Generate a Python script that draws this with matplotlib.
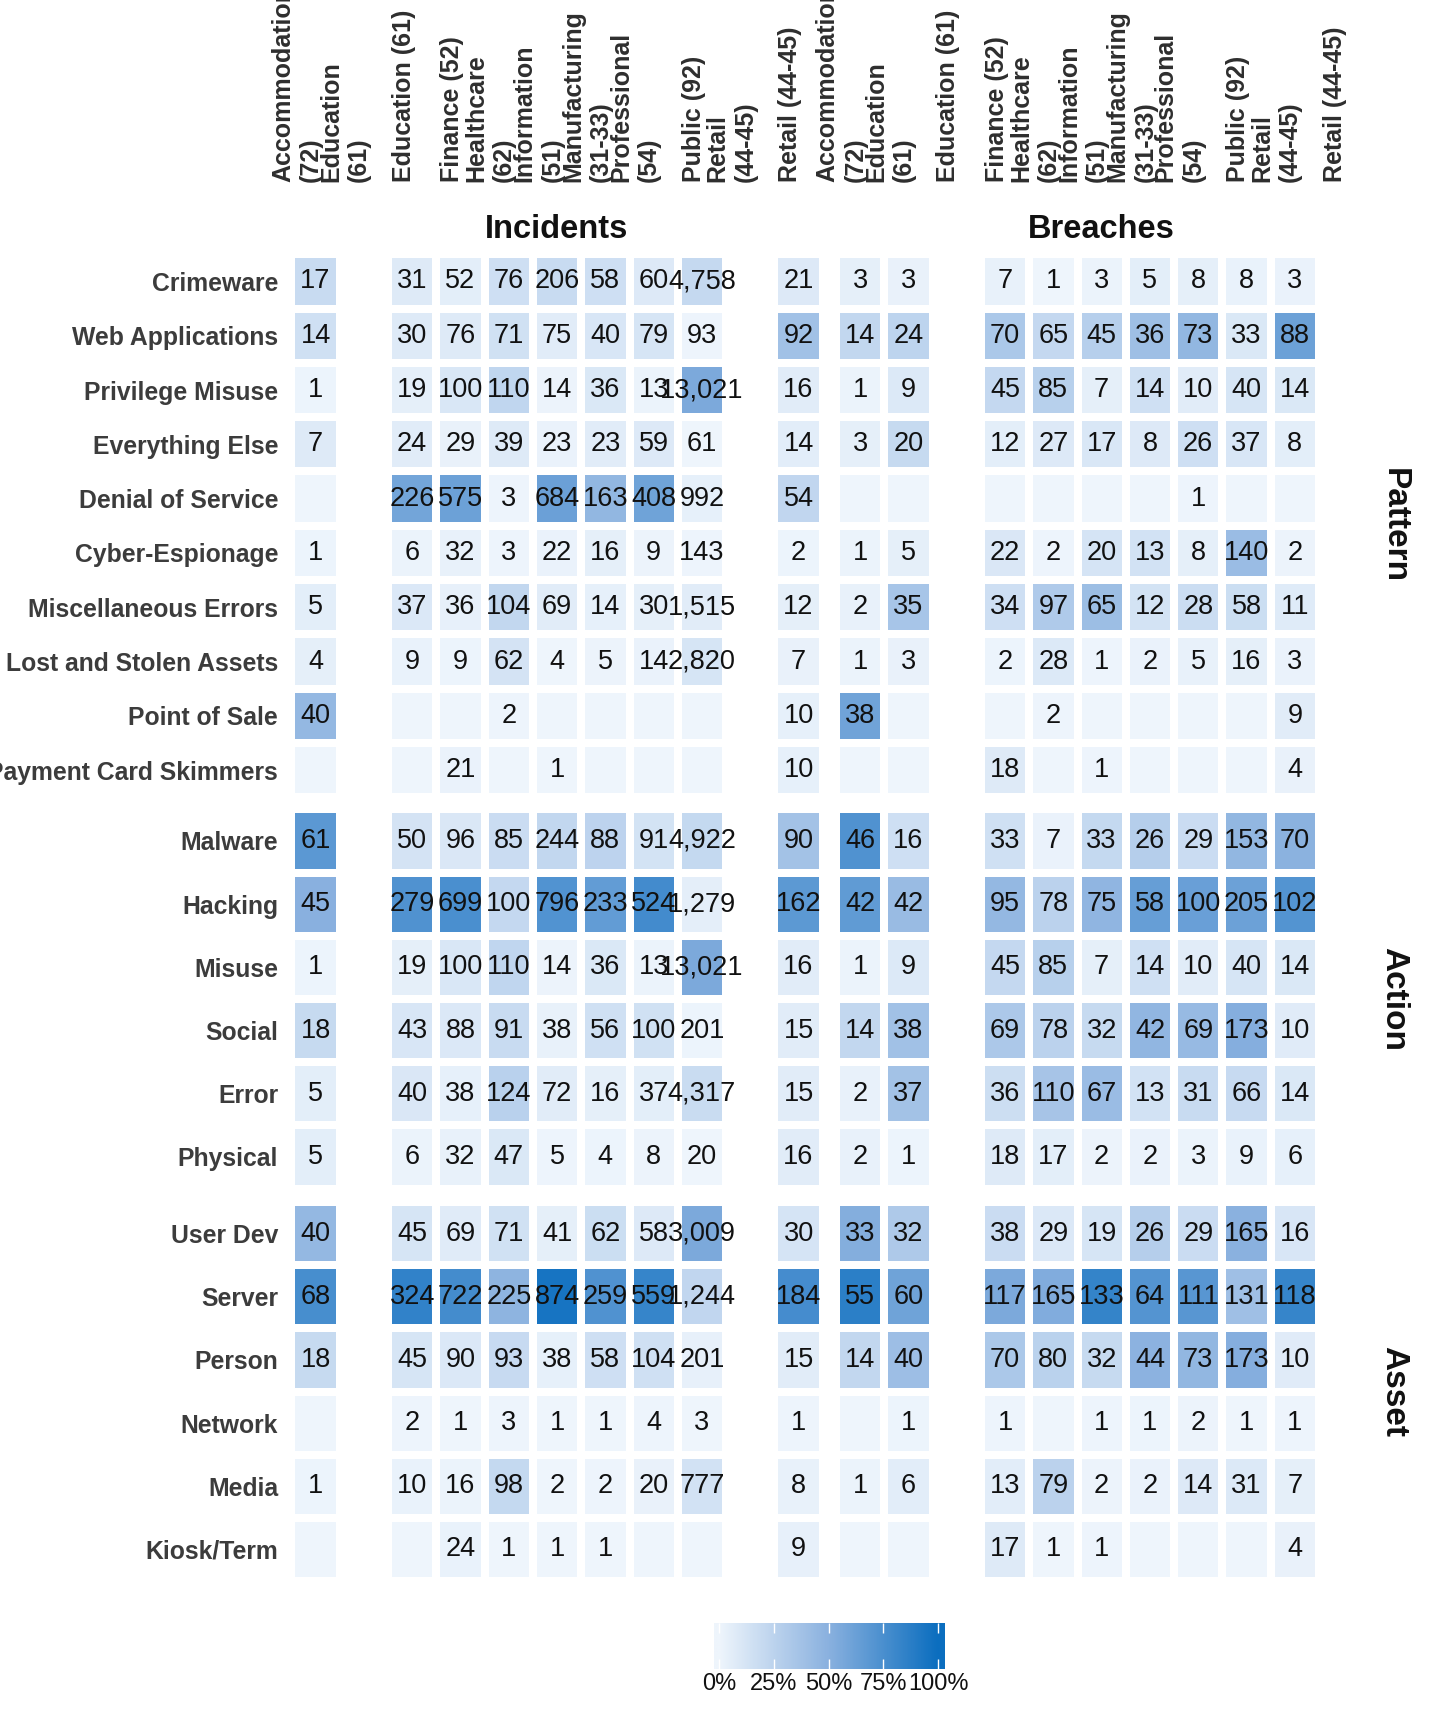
import numpy as np
import matplotlib
matplotlib.use("Agg")
import matplotlib.pyplot as plt
import matplotlib.transforms as mtransforms
from matplotlib.colors import LinearSegmentedColormap

plt.rcParams['font.family'] = ['Liberation Sans', 'DejaVu Sans']

# ---------------- data ----------------
x_labels = ["Accommodation\n(72)", "Education\n(61)", "Education (61)", "Finance (52)",
            "Healthcare\n(62)", "Information\n(51)", "Manufacturing\n(31-33)",
            "Professional\n(54)", "Public (92)", "Retail\n(44-45)", "Retail (44-45)"]

industries = ["Accommodation", "Education", "Finance", "Healthcare", "Information",
              "Manufacturing", "Professional", "Public", "Retail"]

incident_columns = ["Accommodation\n(72)", "Education (61)", "Finance (52)", "Healthcare\n(62)",
                    "Information\n(51)", "Manufacturing\n(31-33)", "Professional\n(54)",
                    "Public (92)", "Retail (44-45)"]
breach_columns = ["Accommodation\n(72)", "Education\n(61)", "Finance (52)", "Healthcare\n(62)",
                  "Information\n(51)", "Manufacturing\n(31-33)", "Professional\n(54)",
                  "Public (92)", "Retail\n(44-45)"]

pattern_rows = ["Crimeware", "Web Applications", "Privilege Misuse", "Everything Else",
                "Denial of Service", "Cyber-Espionage", "Miscellaneous Errors",
                "Lost and Stolen Assets", "Point of Sale", "Payment Card Skimmers"]
action_rows = ["Malware", "Hacking", "Misuse", "Social", "Error", "Physical"]
asset_rows = ["User Dev", "Server", "Person", "Network", "Media", "Kiosk/Term"]

# rows x industries (Accom, Edu, Fin, Health, Info, Manuf, Prof, Public, Retail)
incidents_pattern = [
    [17, 31, 52, 76, 206, 58, 60, 4758, 21],
    [14, 30, 76, 71, 75, 40, 79, 93, 92],
    [1, 19, 100, 110, 14, 36, 13, 13021, 16],
    [7, 24, 29, 39, 23, 23, 59, 61, 14],
    [0, 226, 575, 3, 684, 163, 408, 992, 54],
    [1, 6, 32, 3, 22, 16, 9, 143, 2],
    [5, 37, 36, 104, 69, 14, 30, 1515, 12],
    [4, 9, 9, 62, 4, 5, 14, 2820, 7],
    [40, 0, 0, 2, 0, 0, 0, 0, 10],
    [0, 0, 21, 0, 1, 0, 0, 0, 10],
]
incidents_action = [
    [61, 50, 96, 85, 244, 88, 91, 4922, 90],
    [45, 279, 699, 100, 796, 233, 524, 1279, 162],
    [1, 19, 100, 110, 14, 36, 13, 13021, 16],
    [18, 43, 88, 91, 38, 56, 100, 201, 15],
    [5, 40, 38, 124, 72, 16, 37, 4317, 15],
    [5, 6, 32, 47, 5, 4, 8, 20, 16],
]
incidents_asset = [
    [40, 45, 69, 71, 41, 62, 58, 3009, 30],
    [68, 324, 722, 225, 874, 259, 559, 1244, 184],
    [18, 45, 90, 93, 38, 58, 104, 201, 15],
    [0, 2, 1, 3, 1, 1, 4, 3, 1],
    [1, 10, 16, 98, 2, 2, 20, 777, 8],
    [0, 0, 24, 1, 1, 1, 0, 0, 9],
]
breaches_pattern = [
    [3, 3, 7, 1, 3, 5, 8, 8, 3],
    [14, 24, 70, 65, 45, 36, 73, 33, 88],
    [1, 9, 45, 85, 7, 14, 10, 40, 14],
    [3, 20, 12, 27, 17, 8, 26, 37, 8],
    [0, 0, 0, 0, 0, 0, 1, 0, 0],
    [1, 5, 22, 2, 20, 13, 8, 140, 2],
    [2, 35, 34, 97, 65, 12, 28, 58, 11],
    [1, 3, 2, 28, 1, 2, 5, 16, 3],
    [38, 0, 0, 2, 0, 0, 0, 0, 9],
    [0, 0, 18, 0, 1, 0, 0, 0, 4],
]
breaches_action = [
    [46, 16, 33, 7, 33, 26, 29, 153, 70],
    [42, 42, 95, 78, 75, 58, 100, 205, 102],
    [1, 9, 45, 85, 7, 14, 10, 40, 14],
    [14, 38, 69, 78, 32, 42, 69, 173, 10],
    [2, 37, 36, 110, 67, 13, 31, 66, 14],
    [2, 1, 18, 17, 2, 2, 3, 9, 6],
]
breaches_asset = [
    [33, 32, 38, 29, 19, 26, 29, 165, 16],
    [55, 60, 117, 165, 133, 64, 111, 131, 118],
    [14, 40, 70, 80, 32, 44, 73, 173, 10],
    [0, 1, 1, 0, 1, 1, 2, 1, 1],
    [1, 6, 13, 79, 2, 2, 14, 31, 7],
    [0, 0, 17, 1, 1, 0, 0, 0, 4],
]
# estimated base counts behind the colour shares of the incident asset panel
incidents_asset_base = [89, 382, 930, 470, 920, 355, 672, 5400, 238]

legend_ticks = [0, 0.25, 0.5, 0.75, 1.0]
legend_labels = ["0%", "25%", "50%", "75%", "100%"]

# ---------------- styling ----------------
W, H = 1440, 1728
cmap = LinearSegmentedColormap.from_list("blues_", ["#eef5fc", "#8ab1df", "#0b6ebf"])

fig = plt.figure(figsize=(W / 100, H / 100), dpi=100)


def add_ax(x0, y0, x1, y1):
    return fig.add_axes([x0 / W, 1 - y1 / H, (x1 - x0) / W, (y1 - y0) / H])


col_x = {"inc": (291.4, 822.7), "br": (836.0, 1367.3)}
row_y = {"pat": (254.3, 797.3), "act": (809.3, 1188.5), "ast": (1202.0, 1581.0)}


def col_sums(mat):
    return [sum(r[j] for r in mat) for j in range(len(mat[0]))]


inc_base = col_sums(incidents_pattern)
br_base = col_sums(breaches_pattern)


def draw(ax, rows, data, cols, base, ylabels):
    nrow, nx = len(rows), len(x_labels)
    M = np.full((nrow, nx), np.nan)
    for j, c in enumerate(cols):
        xi = x_labels.index(c)
        for i in range(nrow):
            M[i, xi] = data[i][j] / base[j]
    ax.pcolormesh(np.arange(nx + 1) - 0.5, np.arange(nrow + 1) - 0.5,
                  np.ma.masked_invalid(M), cmap=cmap, vmin=0, vmax=1,
                  edgecolors='white', linewidth=4.5)
    for j, c in enumerate(cols):
        xi = x_labels.index(c)
        for i in range(nrow):
            v = data[i][j]
            if v:
                ax.text(xi, i, f"{v:,}", ha='center', va='center', fontsize=19.5,
                        color='#111111', clip_on=False, zorder=5)
    ax.set_xlim(-0.5, nx - 0.5)
    ax.set_ylim(nrow - 0.5, -0.5)
    ax.set_xticks([])
    for s in ax.spines.values():
        s.set_visible(False)
    if ylabels:
        ax.set_yticks(range(nrow))
        ax.set_yticklabels(rows, fontsize=17.8, fontweight='bold', color='#3c3c3c')
        ax.tick_params(axis='y', length=0, pad=9.5)
    else:
        ax.set_yticks([])


panels = [
    ("inc", "pat", pattern_rows, incidents_pattern, incident_columns, inc_base, True),
    ("inc", "act", action_rows, incidents_action, incident_columns, inc_base, True),
    ("inc", "ast", asset_rows, incidents_asset, incident_columns, incidents_asset_base, True),
    ("br", "pat", pattern_rows, breaches_pattern, breach_columns, br_base, False),
    ("br", "act", action_rows, breaches_action, breach_columns, br_base, False),
    ("br", "ast", asset_rows, breaches_asset, breach_columns, br_base, False),
]
top_axes = {}
for cx, ry, rows, data, cols, base, yl in panels:
    x0, x1 = col_x[cx]
    y0, y1 = row_y[ry]
    ax = add_ax(x0, y0, x1, y1)
    draw(ax, rows, data, cols, base, yl)
    if ry == "pat":
        top_axes[cx] = ax

# column header labels
label_y = 1 - 182 / H
for key, ax in top_axes.items():
    tr = mtransforms.blended_transform_factory(ax.transData, fig.transFigure)
    for k, lab in enumerate(x_labels):
        ax.text(k - 0.03, label_y, lab, transform=tr, rotation=90, rotation_mode='anchor',
                ha='left', va='baseline', fontsize=18, fontweight='bold', color='#2e2e2e',
                linespacing=1.2, clip_on=False)

# facet titles
for key, title in [("inc", "Incidents"), ("br", "Breaches")]:
    x0, x1 = col_x[key]
    fig.text((x0 + x1) / 2 / W, 1 - 238 / H, title, ha='center', va='baseline',
             fontsize=23.5, fontweight='bold', color='#111111')

for key, title in [("pat", "Pattern"), ("act", "Action"), ("ast", "Asset")]:
    y0, y1 = row_y[key]
    fig.text(1394 / W, 1 - (y0 + y1) / 2 / H, title, ha='center', va='center', rotation=270,
             fontsize=24, fontweight='bold', color='#111111')

# colour legend
cax = add_ax(714, 1623.3, 945, 1669.3)
lo = -5 / 219.3
hi = 1 + 6.7 / 219.3
grad = np.linspace(lo, hi, 300).reshape(1, -1)
cax.imshow(grad, cmap=cmap, vmin=0, vmax=1, aspect='auto', extent=[lo, hi, 0, 1])
cax.set_xlim(lo, hi)
cax.set_ylim(0, 1)
cax.set_yticks([])
cax.set_xticks(legend_ticks)
cax.set_xticklabels(legend_labels, fontsize=17, color='#111111')
cax.tick_params(axis='x', direction='in', length=7, width=1, color='white', pad=3,
                top=True, bottom=True)
for s in cax.spines.values():
    s.set_visible(False)

fig.savefig("out.png", dpi=100, facecolor='white')
